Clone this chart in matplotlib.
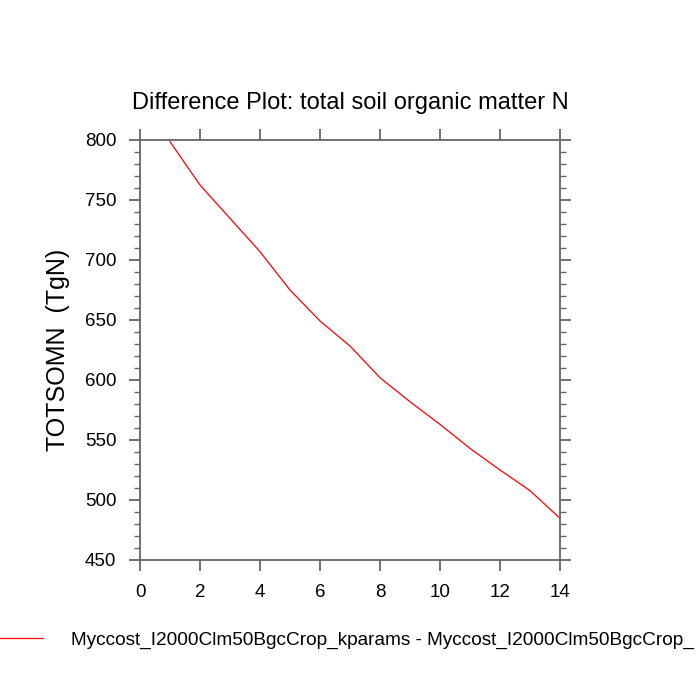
import matplotlib
matplotlib.use("Agg")
import matplotlib.pyplot as plt
from matplotlib.ticker import MultipleLocator

plt.rcParams['font.family'] = ['Liberation Sans', 'DejaVu Sans']

# model years and difference in total soil organic matter N (TgN)
years = [1, 2, 3, 4, 5, 6, 7, 8, 9, 10, 11, 12, 13, 14]
totsomn_diff = [798.6, 762.5, 734.7, 706.9, 675.0, 649.2, 628.3,
                601.9, 581.9, 563.0, 543.0, 525.0, 507.8, 484.7]
case_label = "Myccost_I2000Clm50BgcCrop_kparams - Myccost_I2000Clm50BgcCrop_"

fig = plt.figure(figsize=(7, 7), dpi=100)
ax = fig.add_axes([0.2, 0.2, 0.6, 0.6])

line, = ax.plot(years, totsomn_diff, color='red', linewidth=0.9)

ax.set_xlim(0, 14)
ax.set_ylim(450, 800)
ax.xaxis.set_major_locator(MultipleLocator(2))
ax.yaxis.set_major_locator(MultipleLocator(50))
ax.yaxis.set_minor_locator(MultipleLocator(10))

edge = '#666666'
for s in ax.spines.values():
    s.set_linewidth(1.3)
    s.set_color(edge)
ax.tick_params(which='both', direction='out', top=True, right=True,
               color=edge, labelsize=13.5, labelcolor='black')
ax.tick_params(which='major', length=8, width=1.3, pad=9)
ax.tick_params(which='minor', length=4.3, width=1.0)

ax.set_title("Difference Plot: total soil organic matter N", fontsize=17, pad=22)
ax.set_ylabel("TOTSOMN  (TgN)", fontsize=18, labelpad=11)

fig.legend([line], [case_label], loc='center left',
           bbox_to_anchor=(-0.028, 0.086), frameon=False, fontsize=13.7,
           handlelength=2.4, handletextpad=1.45)

fig.savefig("out.png", dpi=100)
